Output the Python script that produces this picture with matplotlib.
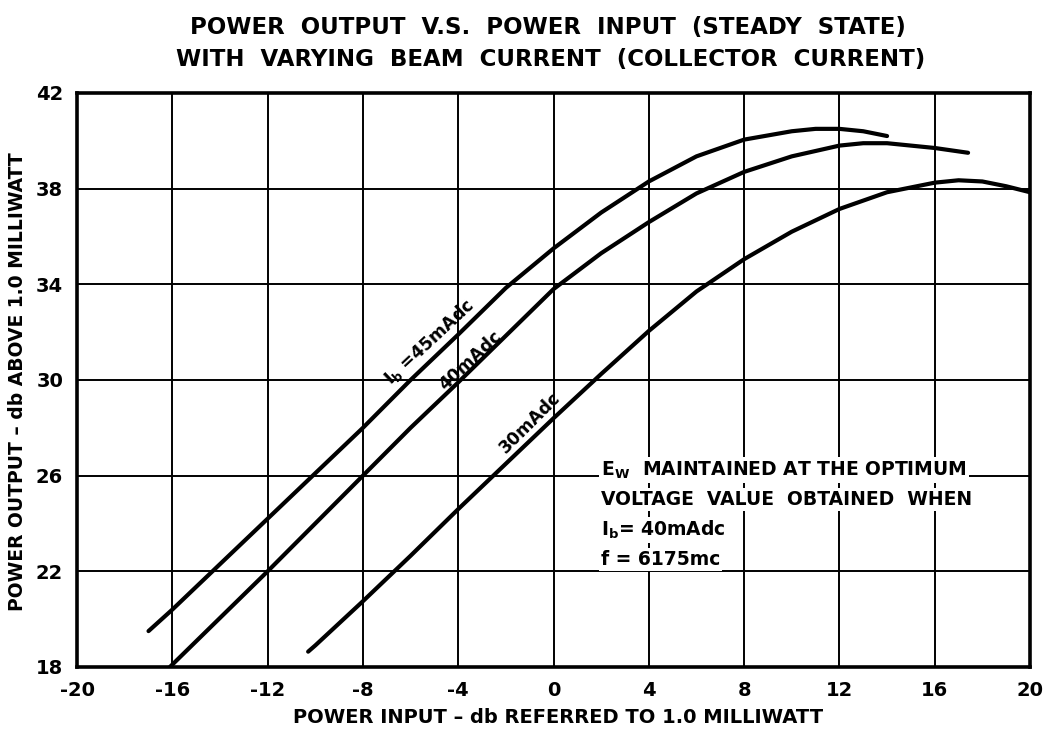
import matplotlib
matplotlib.use('Agg')
import matplotlib.pyplot as plt

plt.rcParams['font.family'] = ['DejaVu Sans']
plt.rcParams['font.weight'] = 'bold'
plt.rcParams['mathtext.default'] = 'bf'
plt.rcParams['axes.unicode_minus'] = False

# 读图得到的曲线数据
x_45 = [-17, -16, -14, -12, -10, -8, -6, -4, -2, 0, 2, 4, 6, 8, 10, 11, 12, 13, 14]
y_45 = [19.5, 20.4, 22.3, 24.2, 26.1, 28.0, 30.0, 31.9, 33.85, 35.5, 37.0, 38.3, 39.35, 40.05, 40.4, 40.5, 40.5, 40.4, 40.2]

x_40 = [-16.1, -16, -14, -12, -10, -8, -6, -4, -2, 0, 2, 4, 6, 8, 10, 12, 13, 14, 15, 16, 17.4]
y_40 = [18.0, 18.1, 20.05, 22.0, 24.0, 26.0, 28.0, 29.9, 31.85, 33.8, 35.3, 36.6, 37.8, 38.7, 39.35, 39.8, 39.9, 39.9, 39.8, 39.7, 39.5]

x_30 = [-10.3, -10, -8, -6, -4, -2, 0, 2, 4, 6, 8, 10, 12, 14, 16, 17, 18, 19, 20]
y_30 = [18.64, 18.9, 20.75, 22.65, 24.6, 26.5, 28.4, 30.25, 32.05, 33.7, 35.05, 36.2, 37.15, 37.85, 38.25, 38.35, 38.3, 38.1, 37.85]

xticks = [-20, -16, -12, -8, -4, 0, 4, 8, 12, 16, 20]
xtick_labels = ['-20', '-16', '-12', '-8', '-4', '0', '4', '8', '12', '16', '20']
yticks = [18, 22, 26, 30, 34, 38, 42]
ytick_labels = ['18', '22', '26', '30', '34', '38', '42']

note_lines = [
    r'$E_W$  MAINTAINED AT THE OPTIMUM',
    'VOLTAGE  VALUE  OBTAINED  WHEN',
    r'$I_b$= 40mAdc',
    'f = 6175mc',
]
note_y = [26.24, 25.0, 23.73, 22.5]

fig = plt.figure(figsize=(10.44, 7.31), dpi=100)
ax = fig.add_axes([0.0738, 0.0876, 0.9128, 0.7852])

for xs, ys in [(x_45, y_45), (x_40, y_40), (x_30, y_30)]:
    ax.plot(xs, ys, color='black', lw=3.0, solid_capstyle='round', zorder=3)

ax.set_xlim(-20, 20)
ax.set_ylim(18, 42)
ax.set_xticks(xticks, xtick_labels)
ax.set_yticks(yticks, ytick_labels)
ax.tick_params(length=0, pad=10, labelsize=14)
ax.grid(True, color='black', lw=1.4)
ax.set_axisbelow(True)
for sp in ax.spines.values():
    sp.set_linewidth(2.6)

# 曲线标注
ax.text(-5.2, 31.6, r'$I_b$ =45mAdc', rotation=43, fontsize=12.5,
        ha='center', va='center', zorder=4)
ax.text(-3.5, 30.8, '40mAdc', rotation=43, fontsize=12.5,
        ha='center', va='center', zorder=4)
ax.text(-1.0, 28.2, '30mAdc', rotation=45, fontsize=12.5,
        ha='center', va='center', zorder=4)

for txt, yy in zip(note_lines, note_y):
    ax.text(1.98, yy, txt, fontsize=13.5, ha='left', va='center', zorder=4,
            bbox=dict(facecolor='white', edgecolor='none', pad=1.5))

fig.text(0.525, 0.9617, 'POWER  OUTPUT  V.S.  POWER  INPUT  (STEADY  STATE)',
         ha='center', va='center', fontsize=16.5)
fig.text(0.527, 0.918, 'WITH  VARYING  BEAM  CURRENT  (COLLECTOR  CURRENT)',
         ha='center', va='center', fontsize=16.5)
fig.text(0.0172, 0.4774, 'POWER OUTPUT – db ABOVE 1.0 MILLIWATT', rotation=90,
         ha='center', va='center', fontsize=13.5)
fig.text(0.5345, 0.0178, 'POWER INPUT – db REFERRED TO 1.0 MILLIWATT',
         ha='center', va='center', fontsize=14)

fig.savefig('out.png', dpi=100)
